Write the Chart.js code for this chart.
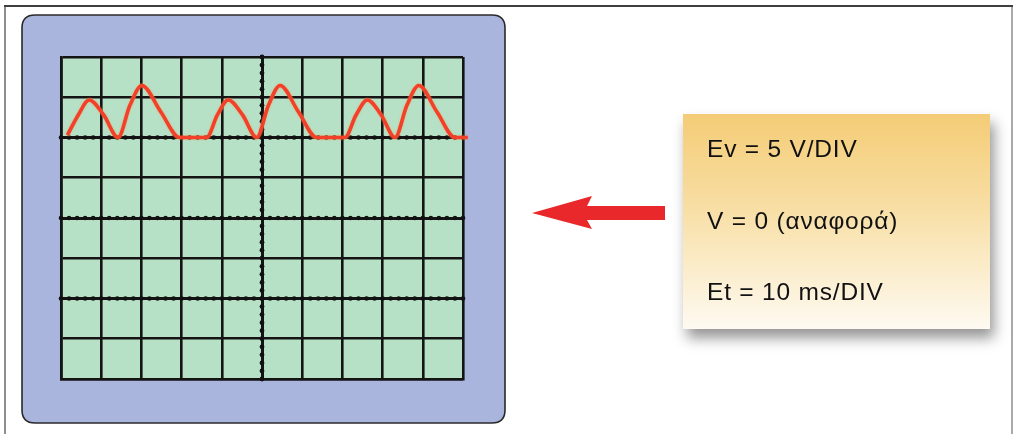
<!DOCTYPE html>
<html>
<head>
<meta charset="utf-8">
<script src="https://cdn.jsdelivr.net/npm/chart.js@4/dist/chart.umd.min.js"></script>
<style>
  html, body { margin: 0; padding: 0; background: #fff; }
  #wrap { position: relative; width: 1017px; height: 434px; overflow: hidden; }
  #scope { position: absolute; left: 0; top: 0; }
  #info {
    position: absolute; left: 683px; top: 114px; width: 307px; height: 215px;
    background: linear-gradient(to bottom, #f4cc76 0%, #f8dfa6 45%, #fefaf1 100%);
    box-shadow: 4px 9px 13px rgba(0, 0, 0, 0.42);
  }
  #info div {
    position: relative; top: -1px; padding-left: 24px;
    font-family: "Liberation Sans", Arial, Helvetica, sans-serif;
    font-size: 24.5px; line-height: 71.5px; letter-spacing: 0.8px; color: #111;
    white-space: nowrap;
  }
</style>
</head>
<body>
<div id="wrap">
  <canvas id="scope" width="1017" height="434"></canvas>
  <div id="info"></div>
</div>
<script>
// scope settings shown in the side box
var infoLines = ['Ev = 5 V/DIV', 'V = 0 (αναφορά)', 'Et = 10 ms/DIV'];

// graticule: 10 x 10 ms across, 8 x 5 V down, zero two divisions from the top
var timeAxis = { min: 0, max: 100, step: 10 };
var voltAxis = { min: -30, max: 10, step: 5 };

// trace (ms, V)
var timeMs = [
    1.6, 4.3, 7.0, 10.6, 14.2, 17.15, 20.1, 24.8, 29.5,
    36.2, 38.9, 41.6, 45.15, 48.7, 51.6, 54.5, 59.05, 63.6,
    70.6, 73.4, 76.2, 79.65, 83.1, 86.05, 89.0, 93.5, 98.0,
    101.2
];
var volts = [
    0.3, 2.8, 4.66, 2.8, 0, 4.0, 6.46, 3.2, 0,
    0, 2.8, 4.66, 2.8, 0, 4.0, 6.46, 3.2, 0,
    0, 2.8, 4.66, 2.8, 0, 4.0, 6.46, 3.2, 0,
    0
];

// dotted graticule lines
var dottedVolts = [0, -10, -20];
var dottedTime = [50];

var info = document.getElementById('info');
infoLines.forEach(function (txt) {
    var d = document.createElement('div');
    d.textContent = txt;
    info.appendChild(d);
});

var roundRect = function (ctx, x, y, w, h, r) {
    ctx.beginPath();
    ctx.moveTo(x + r, y);
    ctx.lineTo(x + w - r, y);
    ctx.quadraticCurveTo(x + w, y, x + w, y + r);
    ctx.lineTo(x + w, y + h - r);
    ctx.quadraticCurveTo(x + w, y + h, x + w - r, y + h);
    ctx.lineTo(x + r, y + h);
    ctx.quadraticCurveTo(x, y + h, x, y + h - r);
    ctx.lineTo(x, y + r);
    ctx.quadraticCurveTo(x, y, x + r, y);
    ctx.closePath();
};

var bezel = {
    id: 'bezel',
    beforeDraw: function (chart) {
        var ctx = chart.ctx, a = chart.chartArea;
        ctx.save();
        // page frame
        ctx.lineWidth = 1.5;
        ctx.strokeStyle = '#6a6a6a';
        ctx.beginPath(); ctx.moveTo(5, 440); ctx.lineTo(5, 6); ctx.stroke();
        ctx.strokeStyle = '#8c8c8c';
        ctx.beginPath(); ctx.moveTo(1012, 6); ctx.lineTo(1012, 440); ctx.stroke();
        ctx.lineWidth = 2.2;
        ctx.strokeStyle = '#404040';
        ctx.beginPath(); ctx.moveTo(4, 6); ctx.lineTo(1013, 6); ctx.stroke();

        // blue bezel
        roundRect(ctx, 22, 15, 483, 408, 13);
        ctx.fillStyle = '#a9b5dc';
        ctx.fill();
        ctx.lineWidth = 1.6;
        ctx.strokeStyle = '#2a2a2a';
        ctx.stroke();

        // screen
        ctx.fillStyle = '#b6e1c6';
        ctx.fillRect(a.left, a.top, a.right - a.left, a.bottom - a.top);
        ctx.restore();
    },
    beforeDatasetsDraw: function (chart) {
        var ctx = chart.ctx, xs = chart.scales.x, ys = chart.scales.y;
        ctx.save();
        ctx.fillStyle = '#111';
        dottedVolts.forEach(function (v) {
            var py = ys.getPixelForValue(v);
            for (var t = timeAxis.min; t <= timeAxis.max; t += timeAxis.step / 5) {
                ctx.beginPath();
                ctx.arc(xs.getPixelForValue(t), py, 2.3, 0, Math.PI * 2);
                ctx.fill();
            }
        });
        dottedTime.forEach(function (t) {
            var px = xs.getPixelForValue(t);
            for (var v = voltAxis.min; v <= voltAxis.max; v += voltAxis.step / 5) {
                ctx.beginPath();
                ctx.arc(px, ys.getPixelForValue(v), 2.4, 0, Math.PI * 2);
                ctx.fill();
            }
        });
        // soft orange glow round the trace
        ctx.restore();
        ctx.save();
        ctx.shadowColor = 'rgba(255, 150, 60, 0.7)';
        ctx.shadowBlur = 2;
    },
    afterDatasetsDraw: function (chart) {
        chart.ctx.restore();
    },
    afterDraw: function (chart) {
        // red pointer towards the screen
        var ctx = chart.ctx;
        ctx.save();
        ctx.fillStyle = '#e8282a';
        ctx.beginPath();
        ctx.moveTo(532, 213);
        ctx.lineTo(592, 196);
        ctx.lineTo(587, 206);
        ctx.lineTo(665, 206);
        ctx.lineTo(665, 220);
        ctx.lineTo(587, 220);
        ctx.lineTo(592, 229);
        ctx.closePath();
        ctx.fill();
        ctx.restore();
    }
};

var gridOpts = function (dotted) {
    return {
        color: '#141414',
        lineWidth: function (c) {
            if (!c.tick) return 2.6;
            return dotted.indexOf(c.tick.value) >= 0 ? 3 : 2.6;
        },
        drawTicks: false,
        tickLength: 0
    };
};

var points = timeMs.map(function (t, i) {
    return { x: t, y: volts[i] };
});

new Chart(document.getElementById('scope'), {
    type: 'line',
    data: {
        datasets: [{
            data: points,
            borderColor: '#f2402b',
            borderWidth: 3.6,
            pointRadius: 0,
            fill: false,
            cubicInterpolationMode: 'monotone',
            clip: false
        }]
    },
    options: {
        responsive: false,
        animation: false,
        events: [],
        layout: { padding: { left: 61, top: 57, right: 554, bottom: 55 } },
        plugins: { legend: { display: false }, tooltip: { enabled: false } },
        scales: {
            x: {
                type: 'linear',
                min: timeAxis.min, max: timeAxis.max,
                ticks: { display: false, stepSize: timeAxis.step },
                grid: gridOpts(dottedTime),
                border: { color: '#141414', width: 2.6 }
            },
            y: {
                type: 'linear',
                min: voltAxis.min, max: voltAxis.max,
                ticks: { display: false, stepSize: voltAxis.step },
                grid: gridOpts(dottedVolts),
                border: { color: '#141414', width: 2.6 }
            }
        }
    },
    plugins: [bezel]
});
</script>
</body>
</html>
